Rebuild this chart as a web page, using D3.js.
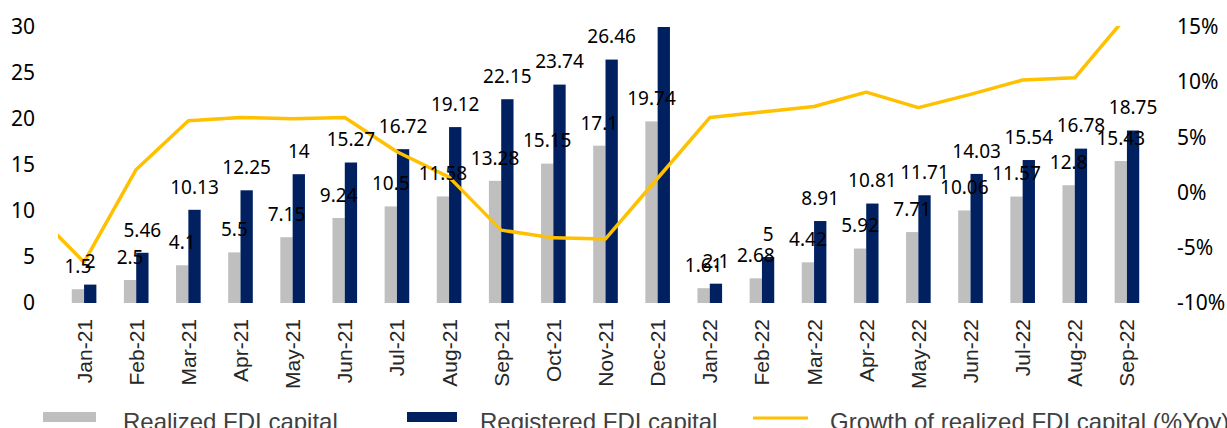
<!DOCTYPE html>
<html lang="en">
  <head>
    <meta charset="utf-8">
    <title>FDI capital</title>
    <script src="https://d3js.org/d3.v7.min.js"></script>
    <style>
    body {
      margin: 0;
      background: #ffffff;
    }
    #chart text.num {
      font-family: "Noto Sans", sans-serif;
      fill: #000000;
    }
    #chart text.month {
      font-family: "Liberation Sans", Arial, sans-serif;
      fill: #262626;
    }
    #chart text.legend {
      font-family: "Liberation Sans", Arial, sans-serif;
      fill: #404040;
    }
    </style>
  </head>
  <body>
    <div id="chart"></div>
    <script>

    // data
    var months = ["Jan-21", "Feb-21", "Mar-21", "Apr-21", "May-21", "Jun-21", "Jul-21",
                  "Aug-21", "Sep-21", "Oct-21", "Nov-21", "Dec-21", "Jan-22", "Feb-22",
                  "Mar-22", "Apr-22", "May-22", "Jun-22", "Jul-22", "Aug-22", "Sep-22"];
    var realized = [1.5, 2.5, 4.1, 5.5, 7.15, 9.24, 10.5, 11.58, 13.28, 15.15, 17.1, 19.74,
                    1.61, 2.68, 4.42, 5.92, 7.71, 10.06, 11.57, 12.8, 15.43];
    var registered = [2, 5.46, 10.13, 12.25, 14, 15.27, 16.72, 19.12, 22.15, 23.74, 26.46, 30.9,
                      2.1, 5, 8.91, 10.81, 11.71, 14.03, 15.54, 16.78, 18.75];
    // growth %YoY, first value is Dec-20 (only its segment shows, cut at the edge)
    var growthPrev = -1.5;
    var growth = [-6.3, 2.1, 6.5, 6.8, 6.7, 6.8, 3.7, 1.4, -3.4, -4.1, -4.2, 1.3,
                  6.8, 7.3, 7.8, 9.1, 7.7, 8.9, 10.2, 10.4, 16.0];
    var leftTicks = [0, 5, 10, 15, 20, 25, 30];
    var rightTicks = [-10, -5, 0, 5, 10, 15];
    var seriesNames = ["Realized FDI capital", "Registered FDI capital", "Growth of realized FDI capital (%Yoy)"];

    var W = 1227, H = 428;
    var plotL = 58, plotR = 1153, plotT = 27, plotB = 303;

    var svg = d3.select("#chart").append("svg")
      .attr("width", W).attr("height", H);

    var x = d3.scaleBand().domain(months).range([plotL, plotR])
      .paddingInner(0.528).paddingOuter(0.264);
    var xs = d3.scaleBand().domain(["realized", "registered"]).range([0, x.bandwidth()]);
    var y = d3.scaleLinear().domain([0, 30]).range([plotB, plotT]).clamp(true);
    var yR = d3.scaleLinear().domain([-10, 15]).range([plotB, plotT]);

    svg.append("clipPath").attr("id", "plot")
      .append("rect").attr("x", plotL).attr("y", plotT - 1)
      .attr("width", plotR - plotL).attr("height", plotB - plotT + 1);

    var rows = months.map(function (m, i) {
      return {m: m, realized: realized[i], registered: registered[i], growth: growth[i]};
    });

    // left axis
    var yAxis = d3.axisLeft(y).tickValues(leftTicks).tickSize(0).tickPadding(0);
    var gl = svg.append("g").attr("transform", "translate(35,0)").call(yAxis);
    gl.select(".domain").remove();
    gl.selectAll("text").attr("class", "num").style("font-size", "21px").attr("fill", "#000");

    // right axis
    var yAxisR = d3.axisRight(yR).tickValues(rightTicks).tickSize(0).tickPadding(0)
      .tickFormat(function (d) { return d + "%"; });
    var gr = svg.append("g").attr("transform", "translate(1177,0)").call(yAxisR);
    gr.select(".domain").remove();
    gr.selectAll("text").attr("class", "num").style("font-size", "21px").attr("fill", "#000");

    // month labels
    svg.append("g").selectAll("text").data(months).enter().append("text")
      .attr("class", "month")
      .attr("transform", function (d) {
        return "translate(" + (x(d) + x.bandwidth() / 2) + ",319) rotate(-90)";
      })
      .attr("text-anchor", "end")
      .attr("dy", "0.36em")
      .style("font-size", "21px")
      .text(function (d) { return d; });

    var plot = svg.append("g").attr("clip-path", "url(#plot)");
    var colors = {realized: "#bfbfbf", registered: "#002060"};

    ["realized", "registered"].forEach(function (key) {
      plot.selectAll("rect." + key).data(rows).enter().append("rect")
        .attr("class", key)
        .attr("x", function (d) { return x(d.m) + xs(key); })
        .attr("width", xs.bandwidth())
        .attr("y", function (d) { return y(d[key]); })
        .attr("height", function (d) { return y(0) - y(d[key]); })
        .attr("fill", colors[key]);
    });

    // growth line, starts from the Dec-20 point left of the plot
    var pts = [[x(months[0]) - x.step() + x.bandwidth() / 2, yR(growthPrev)]];
    rows.forEach(function (d) { pts.push([x(d.m) + x.bandwidth() / 2, yR(d.growth)]); });
    plot.append("path")
      .attr("d", d3.line()(pts))
      .attr("fill", "none")
      .attr("stroke", "#ffc000")
      .attr("stroke-width", 3.5)
      .attr("stroke-linejoin", "round");

    // data labels
    ["realized", "registered"].forEach(function (key) {
      svg.append("g").selectAll("text").data(rows.filter(function (d) { return d[key] <= 30; }))
        .enter().append("text")
        .attr("class", "num")
        .attr("x", function (d) { return x(d.m) + xs(key) + xs.bandwidth() / 2; })
        .attr("y", function (d) { return y(d[key]) - 23; })
        .attr("dy", "0.36em")
        .attr("text-anchor", "middle")
        .style("font-size", "19px")
        .text(function (d) { return d[key]; });
    });

    // legend
    var lg = svg.append("g");
    lg.append("rect").attr("x", 43).attr("y", 412).attr("width", 53).attr("height", 10).attr("fill", colors.realized);
    lg.append("rect").attr("x", 407).attr("y", 412).attr("width", 50).attr("height", 10).attr("fill", colors.registered);
    lg.append("line").attr("x1", 753).attr("x2", 808).attr("y1", 418).attr("y2", 418)
      .attr("stroke", "#ffc000").attr("stroke-width", 3);
    [[123, seriesNames[0]], [480, seriesNames[1]], [830, seriesNames[2]]].forEach(function (t) {
      lg.append("text").attr("class", "legend").attr("x", t[0]).attr("y", 430)
        .style("font-size", "24px").text(t[1]);
    });
    </script>
  </body>
</html>
